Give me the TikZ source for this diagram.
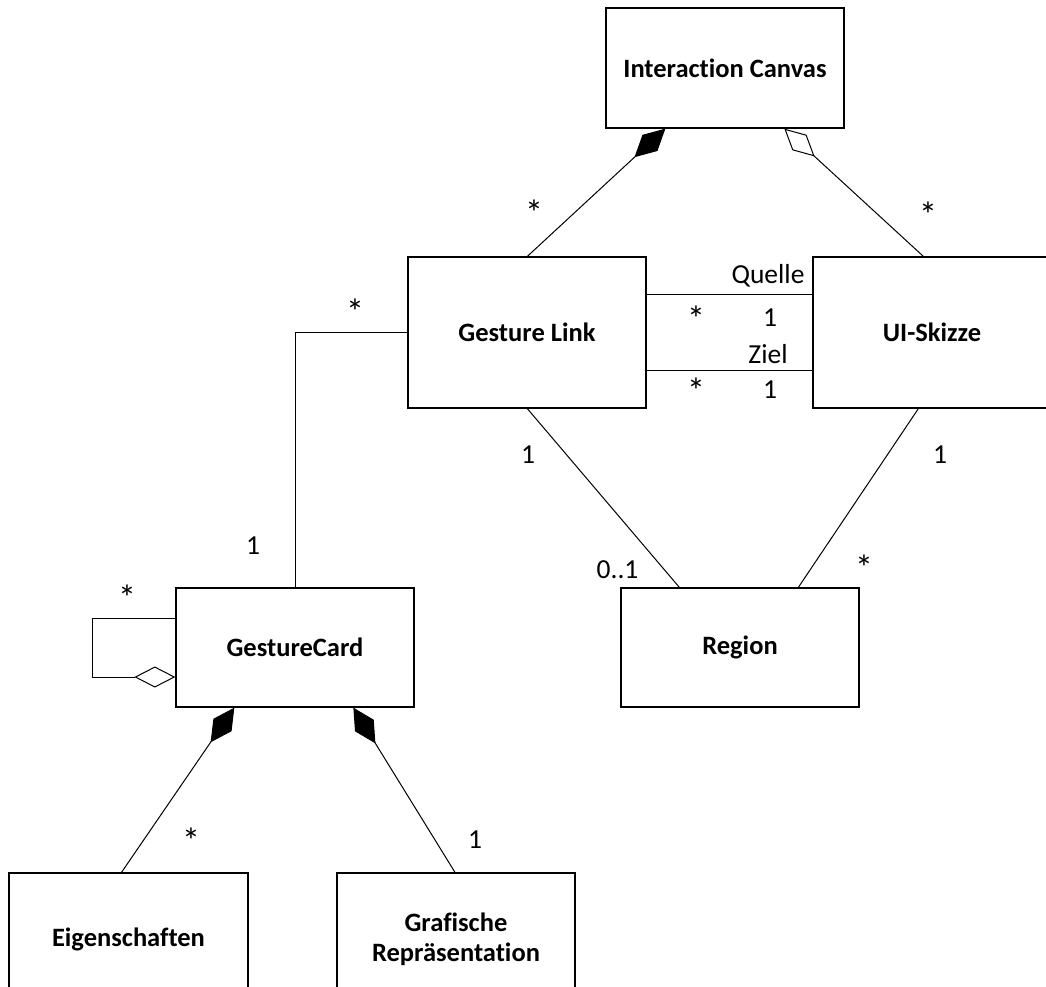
\documentclass[tikz,border=0pt]{standalone}
\usepackage{fontspec}
\setmainfont{Carlito}[Ligatures=NoCommon]
\usetikzlibrary{arrows.meta}
\begin{document}
\begin{tikzpicture}[x=1pt,y=-1pt,
  cls/.style={draw, line width=1.3pt, rectangle, inner sep=0pt,
    font=\bfseries\fontsize{26.5}{30}\selectfont, align=center},
  mult/.style={font=\fontsize{27.5}{30}\selectfont, anchor=base, inner sep=0pt},
  star/.style={mult, font=\fontsize{36}{36}\selectfont},
  assoc/.style={line width=1pt},
  comp/.style={assoc, -{Diamond[length=42pt,width=22pt]}},
  aggr/.style={assoc, -{Diamond[open,length=41pt,width=21pt]}},
]
\useasboundingbox (0,0) rectangle (1046,986);

% classes
\node[cls, minimum width=238pt, minimum height=120pt] (ic) at (725,68) {Interaction Canvas};
\node[cls, minimum width=238pt, minimum height=151pt] (gl) at (527,332.5) {Gesture Link};
\node[cls, minimum width=238pt, minimum height=151pt] (ui) at (932,332.5) {UI-Skizze};
\node[cls, minimum width=238pt, minimum height=119pt] (rg) at (740,647.5) {Region};
\node[cls, minimum width=238pt, minimum height=119pt] (gc) at (295,647.5) {GestureCard};
\node[cls, minimum width=239pt, minimum height=132pt] (ei) at (128.5,939) {Eigenschaften};
\node[cls, minimum width=238pt, minimum height=132pt] (gr) at (456,939) {Grafische\\Repräsentation};

% composition / aggregation with the canvas
\draw[comp] ([xshift=120pt]gl.north west) -- ([xshift=60pt]ic.south west);
\draw[aggr] ([xshift=111pt]ui.north west) -- ([xshift=179pt]ic.south west);
\node[star] (m1) at (534,225) {*};
\node[star] (m2) at (928,227) {*};

% gesture link to gesture card
\draw[assoc] (gl.west) -| (gc.north);
\node[star] (m3) at (355,324) {*};
\node[mult] (m4) at (253,554) {1};

% source / target associations
\draw[assoc] ([yshift=38.5pt]gl.east) -- ([yshift=38.5pt]gl.east -| ui.west);
\draw[assoc] ([yshift=-37.5pt]gl.east) -- ([yshift=-37.5pt]gl.east -| ui.west);
\node[mult] (q) at (768,283) {Quelle};
\node[star] (m5) at (696,331) {*};
\node[mult] (m6) at (770,326) {1};
\node[mult] (z) at (768,363) {Ziel};
\node[star] (m7) at (696,403) {*};
\node[mult] (m8) at (770,398) {1};

% regions
\draw[assoc] ([xshift=120pt]gl.south west) -- ([xshift=59pt]rg.north west);
\draw[assoc] ([xshift=106pt]ui.south west) -- ([xshift=178pt]rg.north west);
\node[mult] (m9) at (528,463) {1};
\node[mult] (m10) at (617.5,578) {0..1};
\node[mult] (m11) at (940,463) {1};
\node[star] (m12) at (864,580) {*};

% self aggregation of gesture cards
\draw[aggr] ([yshift=29.5pt]gc.west) -- ++(-83,0) -- ++(0,59) -- ([yshift=-29.5pt]gc.west);
\node[star] (m13) at (127,610) {*};

% parts of a gesture card
\draw[comp] ([xshift=-7pt]ei.north) -- ([xshift=59pt]gc.south west);
\draw[comp] ([xshift=-1pt]gr.north) -- ([xshift=178pt]gc.south west);
\node[star] (m14) at (191,853) {*};
\node[mult] (m15) at (475,848) {1};
\end{tikzpicture}
\end{document}
